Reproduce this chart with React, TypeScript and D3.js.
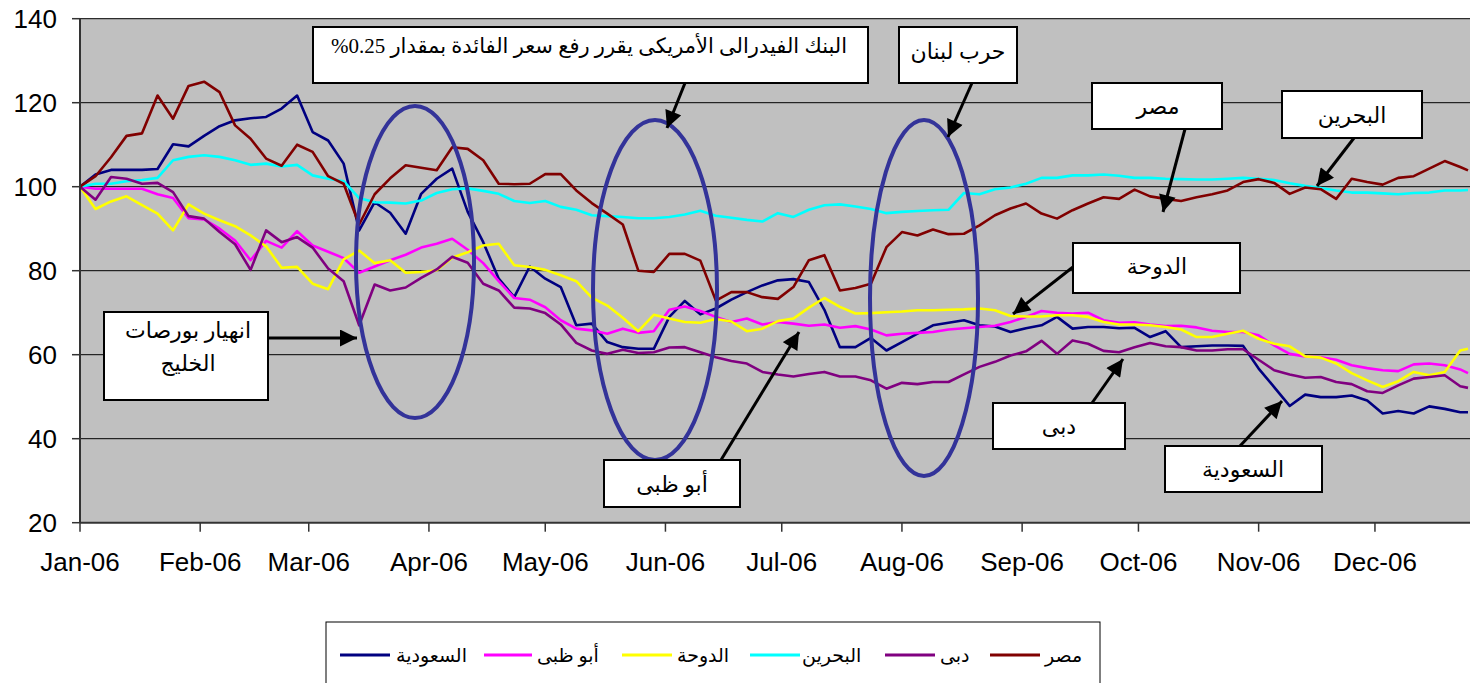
import React from 'react';
import * as d3 from 'd3';

// Day offsets from 1 Jan 2006 for each sample
const dayOffsets = [
  0, 4, 8, 12, 16, 20, 24, 28, 32, 36, 40, 44, 48, 52, 56, 60, 64, 68, 72,
  76, 80, 84, 88, 92, 96, 100, 104, 108, 112, 116, 120, 124, 128, 132, 136, 140, 144,
  148, 152, 156, 160, 164, 168, 172, 176, 180, 184, 188, 192, 196, 200, 204, 208, 212, 216,
  220, 224, 228, 232, 236, 240, 244, 248, 252, 256, 260, 264, 268, 272, 276, 280, 284, 288,
  292, 296, 300, 304, 308, 312, 316, 320, 324, 328, 332, 336, 340, 344, 348, 352, 356, 358,
];

const saudi = [
  100, 102.9, 104, 104, 104, 104.2, 110.1, 109.6, 112.1, 114.4, 115.8, 116.3, 116.6, 118.6, 121.7, 113, 111, 105.5, 89.6,
  96.3, 93.8, 88.8, 98.3, 101.9, 104.3, 94, 86.8, 78.1, 73.7, 81, 78.1, 76.1, 67, 67.4, 63, 61.8, 61.4,
  61.4, 69, 72.8, 69.6, 71, 73.1, 74.9, 76.5, 77.7, 78, 77.3, 70.7, 61.8, 61.8, 64, 61, 63, 65,
  67, 67.6, 68.2, 67, 66.7, 65.4, 66.3, 67, 69, 66.2, 66.6, 66.6, 66.3, 66.4, 64.2, 65.6, 61.8, 62,
  62.2, 62.2, 62.1, 56.7, 52.3, 47.8, 50.5, 49.9, 49.9, 50.3, 49.1, 46, 46.6, 46, 47.7, 47.1, 46.3, 46.3,
];

const abuDhabi = [
  100, 99.5, 99.5, 99.5, 99.5, 98.2, 97.3, 92.5, 92.2, 90, 87.2, 82.5, 87.1, 85.5, 89.4, 86, 84.5, 83, 79.5,
  81, 82.5, 83.8, 85.5, 86.4, 87.6, 85, 81.8, 77.5, 73.5, 73.1, 71.3, 68.2, 66.2, 65.8, 65, 66.2, 65.2,
  65.6, 70.7, 71.5, 70.4, 69, 67.8, 68.6, 67.2, 67.8, 67.4, 66.9, 67.2, 66.4, 66.8, 66, 64.6, 65, 65.2,
  65.4, 66, 66.3, 66.6, 66.9, 67.8, 69, 70.4, 70, 69.8, 70, 68.2, 67.6, 67.7, 67.2, 66.8, 66.9, 66.5,
  65.7, 65.4, 65.4, 64.6, 62.2, 60.2, 59.6, 59.4, 58.8, 57.5, 56.8, 56.3, 56.1, 57.7, 57.9, 57.5, 56.5, 55.6,
];

const doha = [
  100, 94.7, 96.5, 97.7, 95.6, 93.6, 89.6, 95.8, 93.6, 92, 90.6, 88.4, 85.8, 80.7, 80.9, 76.9, 75.6, 82.7, 84.8,
  81.8, 82.5, 79.5, 79.7, 80.1, 83.1, 84.4, 86, 86.4, 81.3, 80.9, 80.2, 78.9, 77.5, 73.6, 71.7, 68.8, 65.6,
  69.5, 68.6, 67.8, 67.6, 68.5, 67.9, 65.6, 66.2, 68, 68.6, 71.2, 73.5, 71.4, 69.8, 69.9, 70.1, 70.3, 70.6,
  70.6, 70.7, 70.8, 71, 70.6, 69.2, 69.1, 69.1, 69.4, 69.4, 69, 67.8, 67.2, 67.2, 67, 66.6, 66, 64.2,
  64.2, 65, 65.7, 63.8, 62.6, 62, 59.6, 59.3, 57.9, 55.6, 53.9, 52.3, 53.7, 55.9, 55.1, 55.9, 61, 61.4,
];

const bahrain = [
  100, 100.7, 100.7, 101.3, 101.6, 102.1, 106.3, 107.1, 107.5, 107.1, 106.3, 105.2, 105.5, 104.8, 105.2, 102.7, 101.9, 101.3, 97.3,
  96.3, 96.2, 96, 96.7, 98.5, 99.4, 99.6, 99, 98.3, 96.6, 96.1, 96.6, 95.2, 94.5, 93.2, 93, 92.8, 92.5,
  92.5, 92.8, 93.4, 94.3, 93.1, 92.6, 92.1, 91.7, 93.7, 92.8, 94.5, 95.6, 95.8, 95.3, 94.7, 93.7, 94, 94.2,
  94.4, 94.5, 98.5, 98.2, 99.4, 99.8, 100.7, 102.1, 102.1, 102.7, 102.7, 102.9, 102.6, 102.1, 102.1, 101.9, 101.8, 101.7,
  101.7, 101.9, 102.1, 101.9, 101.6, 100.8, 100.2, 99.7, 99.1, 98.6, 98.6, 98.4, 98.2, 98.5, 98.6, 99.1, 99.1, 99.2,
];

const dubai = [
  100, 96.9, 102.3, 101.9, 100.7, 100.9, 98.7, 93, 92.4, 89.2, 86.3, 80.2, 89.6, 86.8, 88, 85.5, 80.5, 77.5, 67,
  76.7, 75.3, 76, 78.3, 80.3, 83.3, 81.9, 76.9, 75.3, 71.2, 71, 69.9, 67.2, 62.8, 61, 60.2, 61.2, 60.4,
  60.6, 61.7, 61.8, 60.6, 59.4, 58.5, 57.9, 55.9, 55.3, 54.8, 55.4, 55.9, 54.8, 54.8, 53.9, 51.9, 53.3, 53,
  53.5, 53.5, 55.3, 57.1, 58.3, 59.8, 60.8, 63.3, 60.2, 63.4, 62.6, 60.9, 60.6, 61.8, 62.8, 62, 61.8, 61,
  61, 61.3, 61.3, 58.8, 56.3, 55.3, 54.5, 54.7, 53.5, 53, 51.3, 50.9, 52.7, 54.3, 54.7, 55.1, 52.5, 52.1,
];

const egypt = [
  100, 102.5, 107, 112.1, 112.7, 121.7, 116.2, 124, 125, 122.5, 114.6, 111.4, 106.7, 105, 110, 108.3, 102.5, 100.7, 91,
  98.2, 102, 105.1, 104.5, 103.9, 109.4, 109, 106.3, 100.7, 100.6, 100.7, 103, 103, 99.1, 96.1, 93.6, 91, 80,
  79.7, 84, 84, 82.4, 72.9, 74.9, 74.9, 73.7, 73.3, 76.1, 82.5, 83.7, 75.3, 75.9, 76.9, 85.6, 89.2, 88.4,
  89.8, 88.7, 88.8, 90.8, 93.2, 94.8, 96, 93.6, 92.4, 94.4, 96, 97.5, 97.1, 99.3, 97.7, 97.1, 96.6, 97.5,
  98.2, 99.1, 101.1, 101.8, 100.9, 98.3, 99.8, 99.4, 97.1, 101.9, 101.1, 100.5, 102.1, 102.5, 104.3, 106.1, 104.7, 103.9,
];

const seriesNames = ['السعودية', 'أبو ظبى', 'الدوحة', 'البحرين', 'دبى', 'مصر'];
const seriesValues = [saudi, abuDhabi, doha, bahrain, dubai, egypt];
const seriesColors = ['#000080', '#FF00FF', '#FFFF00', '#00FFFF', '#800080', '#800000'];
const yTicks = [20, 40, 60, 80, 100, 120, 140];

const ARABIC = "'Liberation Serif', 'DejaVu Sans', serif";
const LATIN = "'Liberation Sans', Arial, sans-serif";

type Box = { x: number; y: number; w: number; h: number; lines: string[]; cx: number; cy: number; lh?: number };
const boxes: Box[] = [
  { x: 313, y: 27, w: 555, h: 56, lines: ['البنك الفيدرالى الأمريكى يقرر رفع سعر الفائدة بمقدار 0.25%'], cx: 589, cy: 46 },
  { x: 899, y: 27, w: 118, h: 56, lines: ['حرب لبنان'], cx: 958, cy: 51 },
  { x: 1092, y: 83, w: 130, h: 46, lines: ['مصر'], cx: 1158, cy: 106 },
  { x: 1282, y: 91, w: 140, h: 47, lines: ['البحرين'], cx: 1352, cy: 115 },
  { x: 1073, y: 243, w: 167, h: 50, lines: ['الدوحة'], cx: 1157, cy: 266 },
  { x: 104, y: 312, w: 164, h: 88, lines: ['انهيار بورصات', 'الخليج'], cx: 188, cy: 330, lh: 33 },
  { x: 993, y: 403, w: 132, h: 46, lines: ['دبى'], cx: 1059, cy: 426 },
  { x: 604, y: 460, w: 136, h: 47, lines: ['أبو ظبى'], cx: 672, cy: 484 },
  { x: 1165, y: 446, w: 157, h: 46, lines: ['السعودية'], cx: 1243, cy: 469 },
];

const arrows: [number, number, number, number][] = [
  [685, 83, 667, 128],
  [972, 83, 948, 137],
  [1185, 129, 1163, 212],
  [1354, 138, 1317, 186],
  [1073, 267, 1013, 314],
  [268, 338, 357, 338],
  [1092, 403, 1123, 359],
  [721, 460, 799, 332],
  [1240, 446, 1282, 401],
];

const ellipses = [
  { cx: 415, cy: 262, rx: 59, ry: 156 },
  { cx: 655, cy: 290, rx: 62, ry: 170 },
  { cx: 924, cy: 298, rx: 54, ry: 178 },
];

const legendLayout = [
  { l1: 340, l2: 390, t: 396 },
  { l1: 484, l2: 532, t: 537 },
  { l1: 622, l2: 672, t: 677 },
  { l1: 750, l2: 800, t: 802 },
  { l1: 885, l2: 935, t: 940 },
  { l1: 990, l2: 1040, t: 1045 },
];

export default function App() {
  const W = 1470;
  const H = 683;
  const plotL = 80;
  const plotR = 1468;
  const plotT = 18.7;
  const plotB = 522.7;
  const start = new Date(2006, 0, 1);
  const end = new Date(2006, 11, 25);
  const dates = dayOffsets.map((d) => d3.timeDay.offset(start, d));
  const x = d3.scaleTime().domain([start, end]).range([plotL, plotR]);
  const y = d3.scaleLinear().domain([20, 140]).range([plotB, plotT]);
  const line = d3
    .line<number>()
    .x((_, i) => x(dates[i]))
    .y((v) => y(v));
  const months = d3.timeMonth.range(start, d3.timeDay.offset(end, 1));
  const fmt = d3.timeFormat('%b-%y');

  return (
    <svg width={W} height={H} style={{ position: 'absolute', left: 0, top: 0, background: '#fff' }}>
      <defs>
        <marker id="ah" viewBox="0 0 10 10" refX="10" refY="5" markerUnits="userSpaceOnUse" markerWidth="18" markerHeight="17" orient="auto">
          <path d="M0,0 L10,5 L0,10 z" fill="#000" />
        </marker>
      </defs>
      <rect x={plotL} y={plotT} width={W - plotL} height={plotB - plotT} fill="#C0C0C0" />
      {yTicks.filter((t) => t > 20).map((t) => (
        <line key={t} x1={plotL} x2={W} y1={y(t)} y2={y(t)} stroke="#000" strokeWidth={1} />
      ))}
      {seriesValues.map((vals, i) => (
        <path key={i} d={line(vals) || ''} fill="none" stroke={seriesColors[i]} strokeWidth={2.6} strokeLinejoin="round" />
      ))}
      <line x1={plotL} x2={plotL} y1={plotT} y2={plotB} stroke="#333" strokeWidth={2} />
      <line x1={plotL} x2={W} y1={plotB} y2={plotB} stroke="#333" strokeWidth={2} />
      {yTicks.map((t) => (
        <g key={t}>
          <line x1={72} x2={plotL} y1={y(t)} y2={y(t)} stroke="#333" strokeWidth={1.5} />
          <text x={57} y={y(t)} dy="0.35em" textAnchor="end" fontFamily={LATIN} fontSize={26} fill="#000">
            {t}
          </text>
        </g>
      ))}
      {months.map((m) => (
        <g key={m.getTime()}>
          <line x1={x(m)} x2={x(m)} y1={plotB} y2={plotB + 9} stroke="#333" strokeWidth={1.5} />
          <text x={x(m)} y={571} textAnchor="middle" fontFamily={LATIN} fontSize={26} fill="#000">
            {fmt(m)}
          </text>
        </g>
      ))}
      {ellipses.map((e, i) => (
        <ellipse key={i} cx={e.cx} cy={e.cy} rx={e.rx} ry={e.ry} fill="none" stroke="#333399" strokeWidth={4} />
      ))}
      {arrows.map((a, i) => (
        <line key={i} x1={a[0]} y1={a[1]} x2={a[2]} y2={a[3]} stroke="#000" strokeWidth={3} markerEnd="url(#ah)" />
      ))}
      {boxes.map((b, i) => (
        <g key={i}>
          <rect x={b.x} y={b.y} width={b.w} height={b.h} fill="#fff" stroke="#000" strokeWidth={2} />
          {b.lines.map((ln, j) => (
            <text
              key={j}
              x={b.cx}
              y={b.cy + j * (b.lh || 0)}
              dy="0.35em"
              textAnchor="middle"
              direction="rtl"
              style={{ direction: 'rtl', unicodeBidi: 'embed' } as any}
              fontFamily={ARABIC}
              fontSize={i === 0 ? 21 : 22}
              fill="#000"
            >
              {ln}
            </text>
          ))}
        </g>
      ))}
      <rect x={326} y={622} width={774} height={80} fill="#fff" stroke="#000" strokeWidth={1} />
      {seriesNames.map((n, i) => (
        <g key={n}>
          <line x1={legendLayout[i].l1} x2={legendLayout[i].l2} y1={655} y2={655} stroke={seriesColors[i]} strokeWidth={3} />
          <text x={legendLayout[i].t} y={655} dy="0.35em" textAnchor="start" fontFamily={ARABIC} fontSize={19} fill="#000">
            {n}
          </text>
        </g>
      ))}
    </svg>
  );
}
